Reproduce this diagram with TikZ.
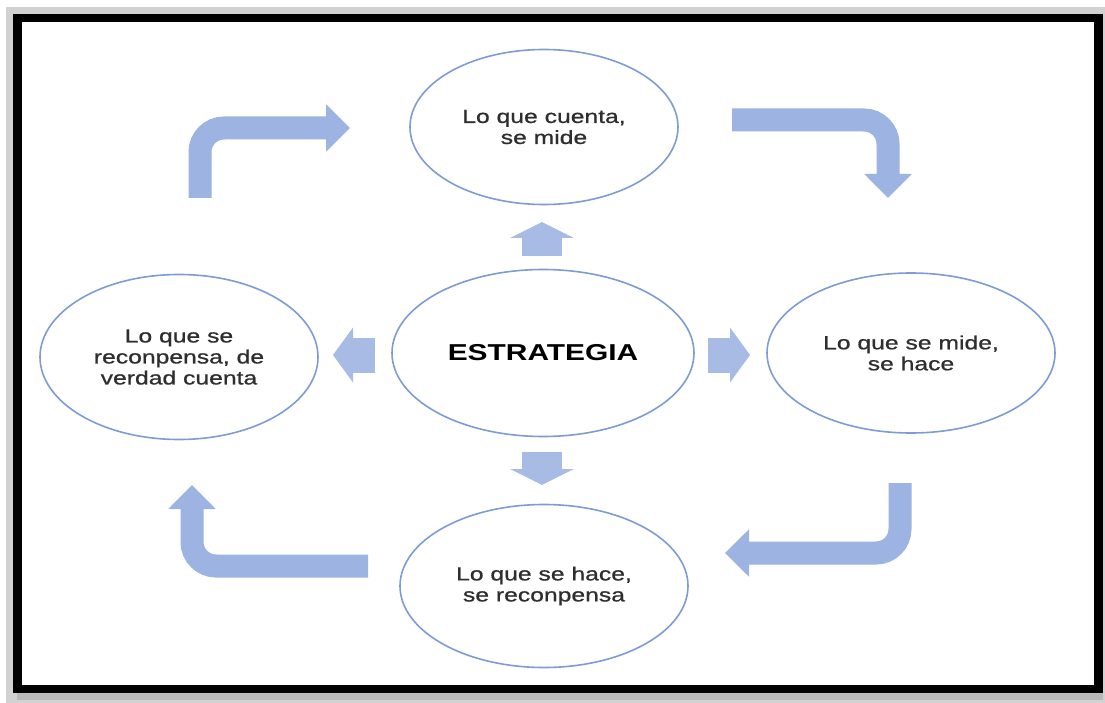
\documentclass[tikz,border=0pt]{standalone}
\usepackage{fontspec}
\setmainfont[FakeStretch=1.3]{Liberation Sans}
\newfontfamily\textofont[FakeStretch=1.3,FakeBold=0.8]{Liberation Sans}
\usepackage{xcolor}
\usetikzlibrary{shapes.geometric,arrows.meta}
\definecolor{flecha}{HTML}{9DB3E2}
\definecolor{borde}{HTML}{7E9CD3}
\definecolor{texto}{HTML}{2E2E2E}

\begin{document}
\begin{tikzpicture}[x=1pt,y=-1pt,
        elipse/.style={ellipse, draw=borde, line width=1.6pt, fill=white, inner sep=0pt,
            align=center, text=texto, font=\textofont\fontsize{19}{21}\selectfont},
        bigarrow/.style={draw=flecha, line width=23pt, rounded corners=24pt,
            -{Triangle[length=24pt,width=46pt]}},
        vsmall/.style={draw=flecha!90!white, line width=40pt,
            -{Triangle[length=16pt,width=63pt]}},
        hsmall/.style={draw=flecha!90!white, line width=35pt,
            -{Triangle[length=20pt,width=54pt]}}]
    \useasboundingbox (0,0) rectangle (1105,703);
    % frame
    \fill[gray!35] (6,7) rectangle (1105,703);
    \fill[gray!55] (17,689) rectangle (1103,700);
    \draw[line width=8.5pt, fill=white] (17.5,18) rectangle (1098.5,689);

    % ellipses
    \node[elipse, minimum width=268pt, minimum height=155pt] (cuenta) at (544,127) {Lo que cuenta,\\se mide};
    \node[elipse, minimum width=302pt, minimum height=167pt, font=\fontsize{23}{25}\selectfont\bfseries, text=black] (estrategia) at (543,353) {ESTRATEGIA};
    \node[elipse, minimum width=288pt, minimum height=160pt] (mide) at (911,353) {Lo que se mide,\\se hace};
    \node[elipse, minimum width=288pt, minimum height=163pt] (hace) at (544,586) {Lo que se hace,\\se reconpensa};
    \node[elipse, minimum width=278pt, minimum height=165pt] (premio) at (179,357) {Lo que se\\reconpensa, de\\verdad cuenta};

    % bent arrows
    \coordinate (a1) at (200,198);
    \coordinate (a2) at (350,128);
    \coordinate (b1) at (732,120);
    \coordinate (b2) at (888,198);
    \coordinate (c1) at (900,483);
    \coordinate (c2) at (725,553);
    \coordinate (d1) at (368,566);
    \coordinate (d2) at (192,485);
    \draw[bigarrow] (a1) |- (a2);
    \draw[bigarrow] (b1) -| (b2);
    \draw[bigarrow] (c1) |- (c2);
    \draw[bigarrow] (d1) -| (d2);

    % small arrows
    \coordinate (up1) at (542,256);
    \coordinate (up2) at (542,222);
    \coordinate (dn1) at (542,452);
    \coordinate (dn2) at (542,485);
    \coordinate (lt1) at (375,355);
    \coordinate (lt2) at (333,355);
    \coordinate (rt1) at (708,355);
    \coordinate (rt2) at (750,355);
    \draw[vsmall] (up1) -- (up2);
    \draw[vsmall] (dn1) -- (dn2);
    \draw[hsmall] (lt1) -- (lt2);
    \draw[hsmall] (rt1) -- (rt2);
\end{tikzpicture}
\end{document}
